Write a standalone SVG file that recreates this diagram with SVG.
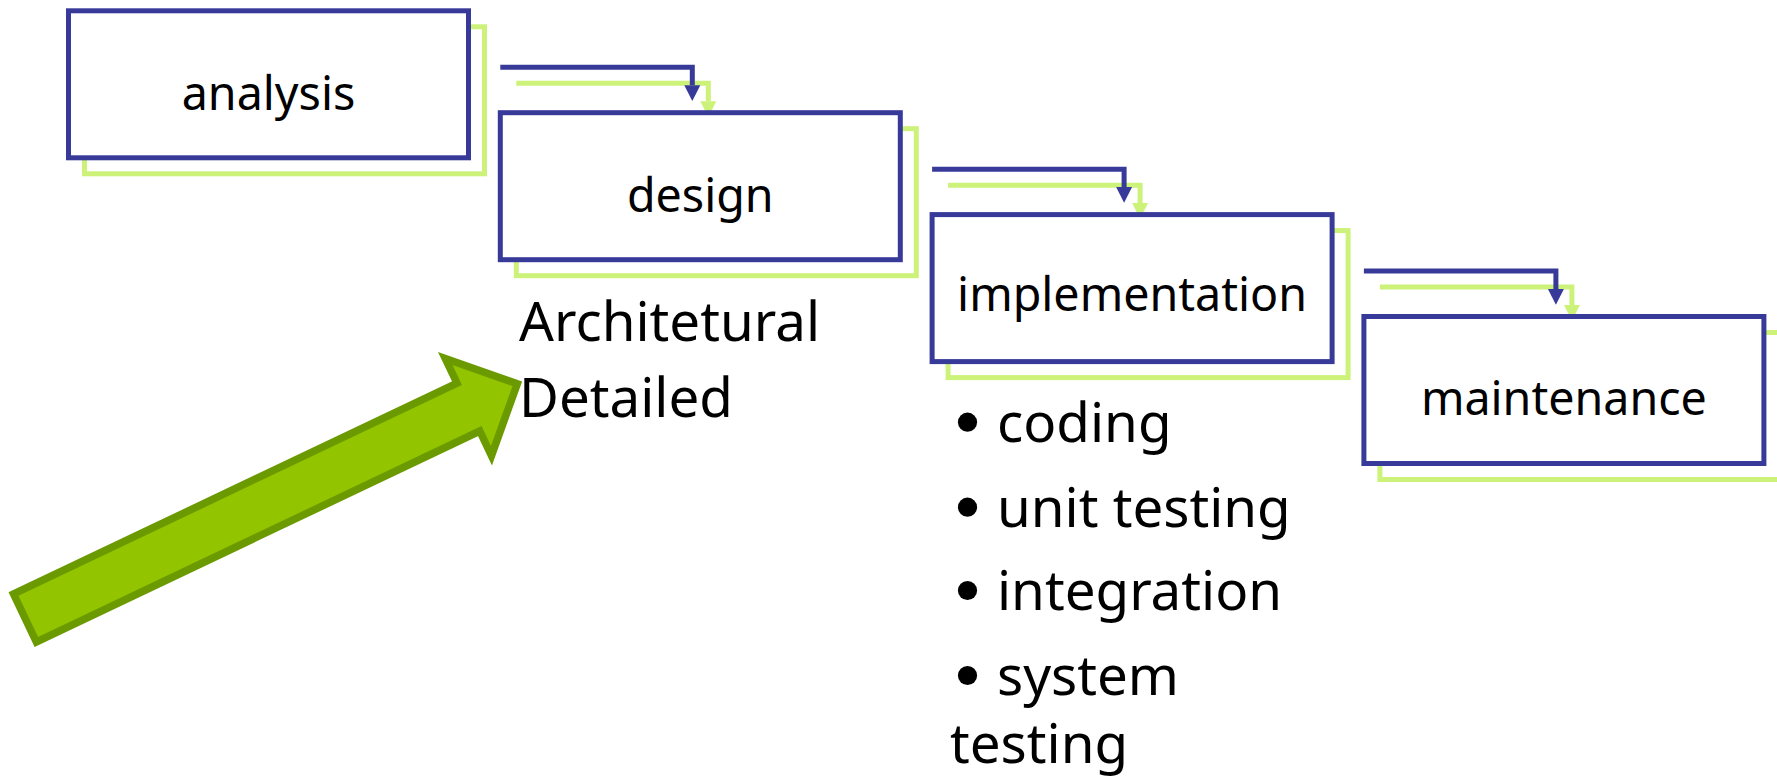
<svg xmlns="http://www.w3.org/2000/svg" width="1777" height="783" viewBox="0 0 1777 783">
  <style>
    .box { fill: #ffffff; stroke: #383a9a; stroke-width: 5; }
    .shadow { fill: none; stroke: #ccf27a; stroke-width: 5; }
    .lbl { font-family: "Noto Sans", "Open Sans", sans-serif; font-size: 46.6px; fill: #000000; text-anchor: middle; }
    .big { font-family: "Noto Sans", "Open Sans", sans-serif; font-size: 54.7px; fill: #000000; }
    .dot { fill: #000000; }
    .cb { fill: none; stroke: #383a9a; stroke-width: 5; }
    .cg { fill: none; stroke: #ccf27a; stroke-width: 5; }
    .hb { fill: #383a9a; }
    .hg { fill: #ccf27a; }
  </style>

  <g id="connectors">
    <g id="connectors-shadow">
      <path class="cg" d="M516.3,83.3 H708.3 V101.2"/>
      <polygon class="hg" points="700.3,101.2 716.3,101.2 708.3,116.9"/>
      <path class="cg" d="M948.1,185.2 H1140.1 V203.1"/>
      <polygon class="hg" points="1132.1,203.1 1148.1,203.1 1140.1,218.8"/>
      <path class="cg" d="M1379.9,287.1 H1571.9 V305"/>
      <polygon class="hg" points="1563.9,305 1579.9,305 1571.9,320.7"/>
    </g>
    <g id="connectors-main">
      <path class="cb" d="M500.3,67.3 H692.3 V85.2"/>
      <polygon class="hb" points="684.3,85.2 700.3,85.2 692.3,100.9"/>
      <path class="cb" d="M932.1,169.2 H1124.1 V187.1"/>
      <polygon class="hb" points="1116.1,187.1 1132.1,187.1 1124.1,202.8"/>
      <path class="cb" d="M1363.9,271.1 H1555.9 V289"/>
      <polygon class="hb" points="1547.9,289 1563.9,289 1555.9,304.7"/>
    </g>
  </g>

  <g id="analysis">
    <rect class="shadow" x="84.5" y="26.8" width="400" height="147"/>
    <rect class="box" x="68.5" y="10.8" width="400" height="147"/>
    <text class="lbl" x="268.5" y="110">analysis</text>
  </g>

  <g id="design">
    <rect class="shadow" x="516.3" y="128.7" width="400" height="147"/>
    <rect class="box" x="500.3" y="112.7" width="400" height="147"/>
    <text class="lbl" x="700.3" y="211.7">design</text>
  </g>

  <g id="implementation">
    <rect class="shadow" x="948.1" y="230.6" width="400" height="147"/>
    <rect class="box" x="932.1" y="214.6" width="400" height="147"/>
    <text class="lbl" x="1132.1" y="310.7">implementation</text>
  </g>

  <g id="maintenance">
    <rect class="shadow" x="1379.9" y="332.5" width="400" height="147"/>
    <rect class="box" x="1363.9" y="316.5" width="400" height="147"/>
    <text class="lbl" x="1563.9" y="415">maintenance</text>
  </g>

  <g id="design-notes">
    <text class="big" x="519" y="341">Architetural</text>
    <text class="big" x="519" y="416.7">Detailed</text>
  </g>

  <g id="implementation-notes">
    <circle class="dot" cx="967.5" cy="422.2" r="9.6"/>
    <text class="big" x="997" y="441.7">coding</text>
    <circle class="dot" cx="967.5" cy="507.2" r="9.6"/>
    <text class="big" x="997" y="526.7">unit testing</text>
    <circle class="dot" cx="967.5" cy="590.5" r="9.6"/>
    <text class="big" x="997" y="610">integration</text>
    <circle class="dot" cx="967.5" cy="675.5" r="9.6"/>
    <text class="big" x="997" y="695">system</text>
    <text class="big" x="950" y="763.3">testing</text>
  </g>

  <g id="big-arrow" transform="translate(21.85,619.5) rotate(-25.44)">
    <polygon points="3,-27 494,-27 494,-54.9 549.3,0 494,54.9 494,27 3,27" fill="#92c400" stroke="#6b9a00" stroke-width="6.6" stroke-linejoin="miter" stroke-miterlimit="10"/>
    <polygon points="6.5,-23.5 497.5,-23.5 497.5,-46.4 544.3,0 497.5,46.4 497.5,23.5 6.5,23.5" fill="none" stroke="#6b9a00" stroke-width="1.4" stroke-miterlimit="10"/>
  </g>
</svg>
